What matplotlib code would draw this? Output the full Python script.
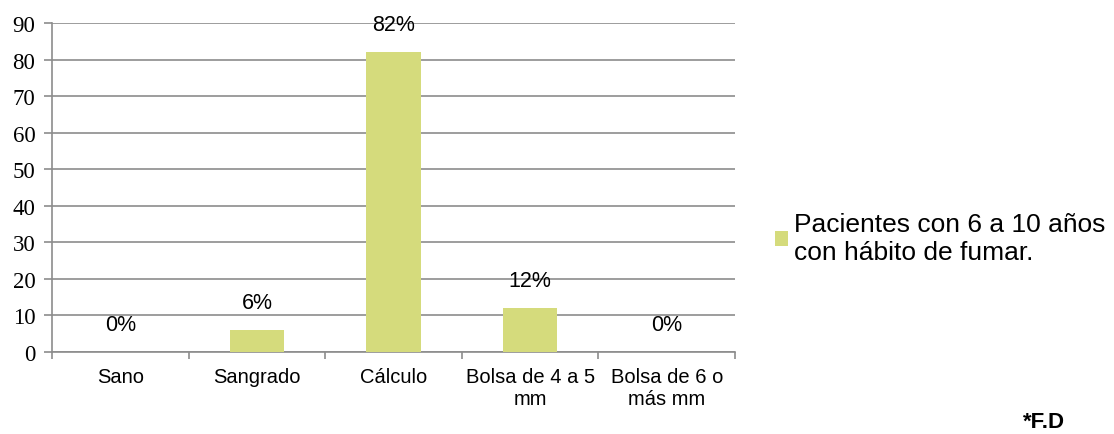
import matplotlib.pyplot as plt
import numpy as np

# datos del gráfico
categorias = ['Sano', 'Sangrado', 'Cálculo', 'Bolsa de 4 a 5\nmm', 'Bolsa de 6 o\nmás mm']
valores = [0, 6, 82, 12, 0]
etiquetas = ['0%', '6%', '82%', '12%', '0%']
serie = 'Pacientes con 6 a 10 años\ncon hábito de fumar.'

color_barra = '#D5DB7C'
gris = '#8C8C8C'

fig = plt.figure(figsize=(11.14, 4.35), dpi=100)
ax = fig.add_axes([0.0467, 0.1885, 0.6131, 0.7563])

x = np.arange(len(categorias))
barras = ax.bar(x, valores, width=0.4, color=color_barra, label=serie, zorder=3)

for xi, v, txt in zip(x, valores, etiquetas):
    ax.annotate(txt, (xi, v), xytext=(0, 20), textcoords='offset points',
                ha='center', va='center', fontsize=15.5, family='Liberation Sans')

ax.set_xlim(-0.5, len(categorias) - 0.5)
ax.set_ylim(0, 90)
ax.set_yticks(range(0, 91, 10))
ax.yaxis.grid(True, color=gris, lw=1.2, zorder=0)
ax.set_axisbelow(True)

# ticks del eje x en los límites entre categorías
ax.set_xticks(np.arange(-0.5, len(categorias)), minor=False)
ax.set_xticklabels([])
ax.set_xticks(x, minor=True)
ax.set_xticklabels(categorias, minor=True, fontsize=14.5, family='Liberation Sans',
                   linespacing=1.15)
ax.tick_params(axis='x', which='minor', length=0, pad=11)
ax.tick_params(axis='x', which='major', length=5, color=gris, width=1.2)
ax.tick_params(axis='y', length=6, color=gris, width=1.2, pad=6)
for lab in ax.get_yticklabels():
    lab.set_family('Liberation Serif')
    lab.set_fontsize(16.5)

for lado in ['top', 'right']:
    ax.spines[lado].set_visible(False)
for lado in ['left', 'bottom']:
    ax.spines[lado].set_color(gris)
    ax.spines[lado].set_linewidth(1.2)

fig.legend(loc='center left', bbox_to_anchor=(0.674, 0.45), frameon=False,
           handlelength=0.5, handleheight=0.5, handletextpad=0.25,
           prop={'family': 'Liberation Sans', 'size': 19})

fig.text(0.918, 0.005, '*F.D', fontsize=16, fontweight='bold',
         family='Liberation Sans', ha='left', va='bottom')

fig.savefig('out.png', dpi=100)
